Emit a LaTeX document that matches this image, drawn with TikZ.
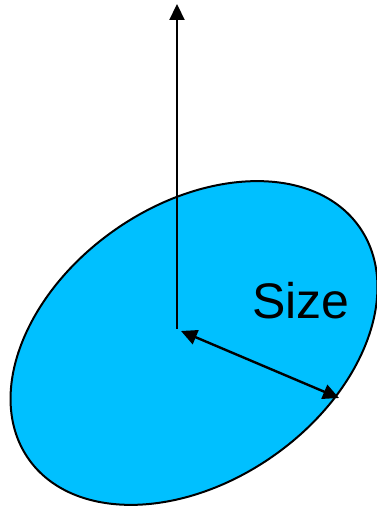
\documentclass[tikz,border=0pt]{standalone}
\usepackage{fontspec}
\setmainfont{Liberation Sans}
\usetikzlibrary{arrows.meta,shapes.geometric}
\definecolor{skyfill}{RGB}{0,192,255}
\tikzset{
  blob/.style={ellipse, draw=black, line width=2pt, fill=skyfill, inner sep=0pt},
  conn/.style={line width=2.2pt, -{Triangle[length=16pt,width=15pt]}},
  dconn/.style={line width=2.4pt, {Triangle[length=16pt,width=15pt]}-{Triangle[length=16pt,width=15pt]}}
}
\begin{document}
\begin{tikzpicture}[x=1pt,y=1pt]
\useasboundingbox (0,0) rectangle (376,508);
\node[blob, rotate=35, minimum width=404pt, minimum height=276pt] (ell) at (194,165) {};
\coordinate (base) at (177,179);
\coordinate (top) at (177,504);
\coordinate (start) at (181,177);
\coordinate (rim) at (339,110);
\draw[conn] (base) -- (top);
\draw[dconn] (start) -- (rim);
\node[anchor=base, font=\fontsize{50}{60}\selectfont, inner sep=0pt] (lbl) at (301,189) {Size};
\end{tikzpicture}
\end{document}
